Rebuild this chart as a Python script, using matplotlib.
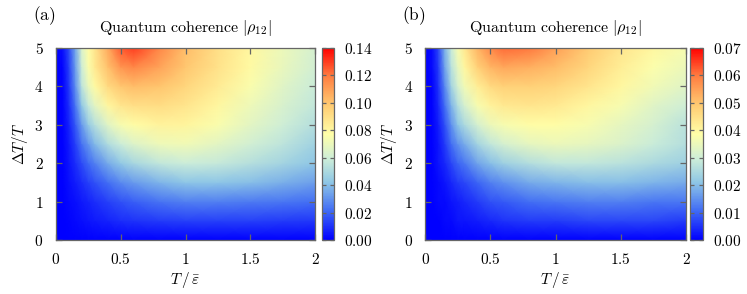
import numpy as np
import matplotlib
matplotlib.use("Agg")
import matplotlib.pyplot as plt
from matplotlib.colors import LinearSegmentedColormap
from matplotlib.ticker import FixedLocator, FuncFormatter

plt.rcParams['mathtext.fontset'] = 'cm'
plt.rcParams['font.family'] = ['DejaVu Serif']

# grid coordinates
t_vals = [0, 0.05, 0.1, 0.15, 0.2, 0.25, 0.3, 0.4, 0.5, 0.6, 0.8, 1.0, 1.25, 1.5, 1.75, 2.0]
dt_vals = [0, 0.5, 1, 1.5, 2, 2.5, 3, 3.5, 4, 4.5, 5]

# panel (a) coherence, rows follow dt_vals
coh_a = [
    [0, 0, 0, 0, 0, 0, 0, 0, 0, 0, 0, 0, 0, 0, 0, 0],
    [0, 0, 0.001, 0.002, 0.003, 0.004, 0.005, 0.007, 0.009, 0.010, 0.012, 0.013, 0.013, 0.013, 0.012, 0.011],
    [0, 0, 0.002, 0.003, 0.005, 0.007, 0.009, 0.013, 0.016, 0.019, 0.023, 0.026, 0.026, 0.025, 0.024, 0.022],
    [0, 0, 0.003, 0.006, 0.009, 0.013, 0.016, 0.022, 0.028, 0.032, 0.038, 0.042, 0.042, 0.040, 0.037, 0.033],
    [0, 0, 0.004, 0.009, 0.015, 0.021, 0.026, 0.036, 0.043, 0.049, 0.056, 0.059, 0.057, 0.053, 0.048, 0.042],
    [0, 0, 0.005, 0.013, 0.023, 0.031, 0.039, 0.051, 0.059, 0.065, 0.071, 0.072, 0.067, 0.061, 0.055, 0.047],
    [0, 0, 0.007, 0.018, 0.032, 0.044, 0.053, 0.066, 0.074, 0.078, 0.082, 0.081, 0.075, 0.067, 0.060, 0.052],
    [0, 0, 0.009, 0.024, 0.043, 0.057, 0.067, 0.080, 0.087, 0.090, 0.091, 0.088, 0.080, 0.071, 0.063, 0.056],
    [0, 0, 0.011, 0.030, 0.055, 0.069, 0.079, 0.092, 0.099, 0.102, 0.100, 0.094, 0.085, 0.075, 0.066, 0.058],
    [0, 0.001, 0.013, 0.033, 0.060, 0.075, 0.086, 0.101, 0.113, 0.117, 0.109, 0.099, 0.089, 0.079, 0.069, 0.061],
    [0, 0.003, 0.015, 0.035, 0.065, 0.078, 0.088, 0.107, 0.125, 0.130, 0.117, 0.102, 0.090, 0.080, 0.070, 0.062],
]

# panel (b) coherence, rows follow dt_vals
coh_b = [
    [0, 0, 0, 0, 0, 0, 0, 0, 0, 0, 0, 0, 0, 0, 0, 0],
    [0, 0, 0, 0.001, 0.001, 0.002, 0.002, 0.003, 0.004, 0.005, 0.006, 0.006, 0.007, 0.007, 0.007, 0.006],
    [0, 0, 0.001, 0.001, 0.002, 0.003, 0.004, 0.006, 0.008, 0.009, 0.011, 0.012, 0.013, 0.013, 0.012, 0.012],
    [0, 0, 0.001, 0.002, 0.004, 0.006, 0.007, 0.010, 0.013, 0.015, 0.018, 0.019, 0.020, 0.020, 0.019, 0.018],
    [0, 0, 0.002, 0.004, 0.007, 0.010, 0.012, 0.017, 0.020, 0.023, 0.026, 0.028, 0.028, 0.027, 0.025, 0.023],
    [0, 0, 0.002, 0.006, 0.011, 0.015, 0.018, 0.024, 0.028, 0.031, 0.034, 0.035, 0.034, 0.032, 0.029, 0.026],
    [0, 0, 0.003, 0.008, 0.015, 0.021, 0.025, 0.031, 0.035, 0.037, 0.039, 0.039, 0.037, 0.034, 0.031, 0.027],
    [0, 0, 0.004, 0.011, 0.019, 0.026, 0.031, 0.037, 0.041, 0.043, 0.044, 0.043, 0.040, 0.037, 0.033, 0.030],
    [0, 0, 0.005, 0.014, 0.024, 0.031, 0.036, 0.042, 0.046, 0.048, 0.048, 0.047, 0.044, 0.040, 0.036, 0.033],
    [0, 0.001, 0.006, 0.017, 0.027, 0.034, 0.040, 0.048, 0.052, 0.054, 0.053, 0.051, 0.047, 0.042, 0.038, 0.035],
    [0, 0.001, 0.007, 0.019, 0.029, 0.037, 0.043, 0.052, 0.058, 0.061, 0.060, 0.055, 0.049, 0.044, 0.040, 0.037],
]

x_ticks = [0, 0.5, 1, 1.5, 2]
x_tick_labels = ['0', '0.5', '1', '1.5', '2']
y_ticks = [0, 1, 2, 3, 4, 5]
cb_ticks_a = [0.00, 0.02, 0.04, 0.06, 0.08, 0.10, 0.12, 0.14]
cb_ticks_b = [0.00, 0.01, 0.02, 0.03, 0.04, 0.05, 0.06, 0.07]
vmax_a = 0.14
vmax_b = 0.07

cmap = LinearSegmentedColormap.from_list('bwyr', [
    (0.0, (0.0, 0.0, 1.0)),
    (0.15, (0.25, 0.42, 0.96)),
    (0.30, (0.56, 0.78, 0.90)),
    (0.42, (0.80, 0.93, 0.85)),
    (0.55, (1.0, 1.0, 0.66)),
    (0.70, (1.0, 0.80, 0.45)),
    (0.85, (1.0, 0.50, 0.26)),
    (1.0, (1.0, 0.0, 0.0)),
])

W, H = 747, 294
fig = plt.figure(figsize=(W / 100, H / 100), dpi=100)


def px(l, t, w, h):
    return [l / W, 1 - (t + h) / H, w / W, h / H]


frame_col = '#666666'
fs = 11


def style(ax):
    for s in ax.spines.values():
        s.set_color(frame_col)
        s.set_linewidth(0.9)
    ax.tick_params(direction='in', color=frame_col, width=0.9, length=4,
                   labelsize=fs, top=True, right=True)


def panel(ax_rect, cb_rect, data, vmax, cbt, label, fmt):
    ax = fig.add_axes(px(*ax_rect))
    mesh = ax.pcolormesh(t_vals, dt_vals, np.array(data), cmap=cmap,
                         vmin=0, vmax=vmax, shading='gouraud', rasterized=True)
    ax.set_xlim(0, 2)
    ax.set_ylim(0, 5)
    style(ax)
    ax.xaxis.set_major_locator(FixedLocator(x_ticks))
    ax.xaxis.set_major_formatter(FuncFormatter(
        lambda v, p: '$' + x_tick_labels[x_ticks.index(v)] + '$' if v in x_ticks else ''))
    ax.yaxis.set_major_locator(FixedLocator(y_ticks))
    ax.yaxis.set_major_formatter(FuncFormatter(lambda v, p: '$%d$' % v))
    ax.tick_params(axis='x', pad=9)
    ax.tick_params(axis='y', pad=9)
    ax.set_xlabel(r'$T\,/\,\bar{\varepsilon}$', fontsize=fs, labelpad=2)
    ax.set_ylabel(r'$\Delta T/T$', fontsize=fs, labelpad=3)
    ax.set_title(r'$\mathrm{Quantum\ coherence}\ |\rho_{12}|$', fontsize=11.5, pad=11)
    ax.text(-0.09, 1.11, r'$\mathrm{(' + label + ')}$', transform=ax.transAxes,
            fontsize=12.5, ha='left', va='bottom')

    cax = fig.add_axes(px(*cb_rect))
    cb = fig.colorbar(mesh, cax=cax)
    cb.outline.set_edgecolor(frame_col)
    cb.outline.set_linewidth(0.9)
    cb.set_ticks(cbt)
    cb.ax.yaxis.set_major_formatter(FuncFormatter(lambda v, p: '$' + fmt % v + '$'))
    cax.tick_params(direction='in', color=frame_col, width=0.9, length=3,
                    labelsize=fs, left=True, right=True, pad=7)
    return ax


panel((56, 47.7, 259, 192.3), (322, 47.7, 12.5, 192.3), coh_a, vmax_a, cb_ticks_a, 'a', '%.2f')
panel((425.3, 47.7, 260.7, 192.3), (690, 47.7, 13, 192.3), coh_b, vmax_b, cb_ticks_b, 'b', '%.2f')

fig.savefig('out.png', dpi=100)
